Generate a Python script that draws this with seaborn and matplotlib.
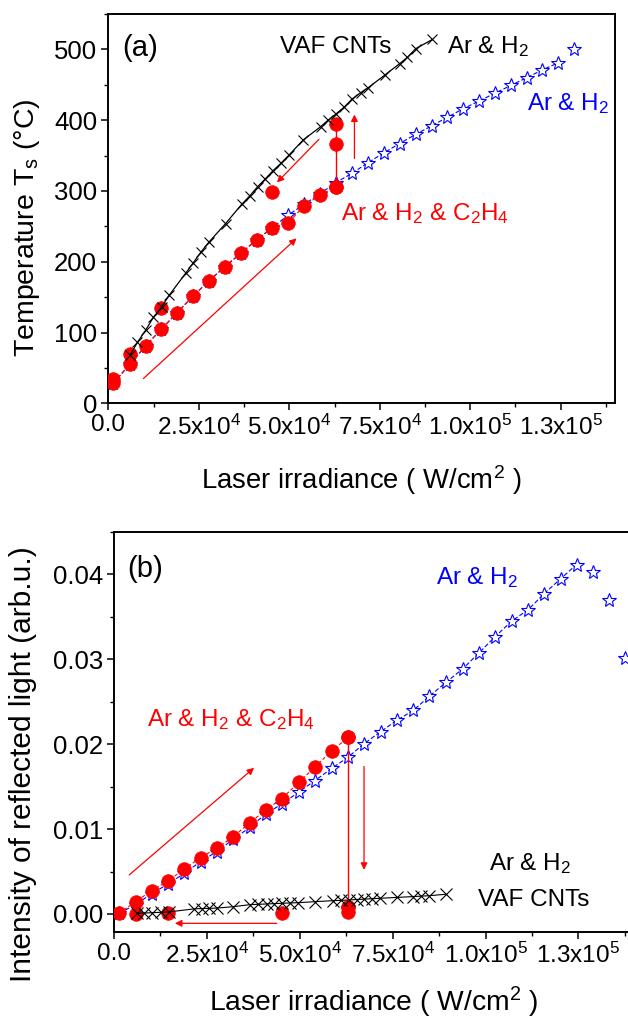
import matplotlib
matplotlib.use("Agg")
import matplotlib.pyplot as plt
import seaborn as sns
from matplotlib.ticker import FixedLocator, MultipleLocator, FixedFormatter, FormatStrFormatter

# ---------------- data: panel (a) temperature ----------------
a_heat_x = [1300, 6000, 10300, 14600, 19000, 23400, 27800, 32200, 36600, 41000, 45300, 49700, 54100, 58500, 62800]
a_heat_T = [28, 55.5, 81, 104.5, 128, 151.5, 173, 193, 212, 231, 248, 255, 279, 294, 306]
a_jump_x = [62800, 62800, 62800]
a_jump_T = [306, 367, 394]
a_cool_x = [45300, 14600, 6000, 1300]
a_cool_T = [299, 135, 70, 35]

a_star_x = [1300, 6000, 10300, 14600, 19000, 23400, 27800, 32200, 36600, 41000, 45300, 49700,
            54100, 58500, 62800, 67350, 71770, 76190, 80500, 84930, 89350, 93660, 97990,
            102400, 106800, 111200, 115600, 119900, 124300]
a_star_T = [28, 55.5, 81, 104.5, 128, 151.5, 173, 193, 212, 231, 248, 266,
            281, 296, 311.6, 325, 340, 354, 367, 380, 392, 404, 416,
            427, 438, 449, 460, 471, 481]
a_star_tail_x = [128700]
a_star_tail_T = [500]

a_vaf_x = [6000, 8030, 10340, 12440, 14760, 16860, 21350, 23480, 25600, 27810, 32420, 36830,
           39040, 41250, 43260, 45470, 47680, 49970, 53840, 58640, 60740, 62860, 65070,
           67350, 69680, 71780, 76390, 80530, 82620, 84930, 89530]
a_vaf_T = [68, 86, 103.5, 121.4, 136.4, 153, 183.6, 198.6, 213.7, 227.8, 254, 281,
           292.8, 306, 316.4, 328.5, 339, 351, 372, 390.7, 400, 408.6, 418,
           429.8, 438.7, 445.8, 463.7, 480, 488.7, 501, 514]

# ---------------- data: panel (b) reflected light ----------------
b_heat_x = [1430, 5830, 10140, 14620, 18930, 23330, 27630, 32110, 36600, 40900, 45210, 49700, 54090, 58580, 63050]
b_heat_I = [0.0001, 0.00145, 0.00275, 0.0039, 0.0053, 0.00664, 0.00774, 0.0091, 0.01076,
            0.01226, 0.01359, 0.01548, 0.01729, 0.0192, 0.02078]
b_drop_x = [63050, 63050]
b_drop_I = [0.02078, 0.00086]
b_cool_x = [63050, 63050, 45210, 14620, 5830]
b_cool_I = [0.00086, 0.00027, 0.00015, 0.0001, 0.0]

b_star_x = [1430, 5830, 10140, 14620, 18930, 23330, 27630, 32110, 36600, 40900, 45210, 49700,
            54090, 58720, 63050, 67280, 71770, 76070, 80550, 84850, 89340, 93830, 98220,
            102500, 107000, 111500, 115800, 120200, 124500]
b_star_I = [0.0001, 0.0011, 0.0024, 0.00354, 0.0048, 0.00617, 0.00734, 0.0088, 0.01021,
            0.01179, 0.01296, 0.01434, 0.01571, 0.01717, 0.01847, 0.02004, 0.02145, 0.02278,
            0.02396, 0.02561, 0.02726, 0.02884, 0.03072, 0.03261, 0.03445, 0.03583, 0.03771,
            0.03945, 0.04113]
b_star_tail_x = [129000, 133300, 137500]
b_star_tail_I = [0.04022, 0.03701, 0.03014]

b_vaf_x = [6100, 8160, 10300, 12560, 14710, 21530, 23600, 25650, 27800, 32110, 36600, 38830,
           41090, 43060, 45300, 47370, 49600, 54090, 59020, 61090, 63250, 65320, 67380,
           69530, 71590, 76070, 80550, 82620, 84770, 89260]
b_vaf_I = [0.0001, 0.00012, 0.00015, 0.0002, 0.00024, 0.0006, 0.00064, 0.00067, 0.0007,
           0.00086, 0.0011, 0.00114, 0.00118, 0.00122, 0.00126, 0.0013, 0.00133, 0.00145,
           0.00157, 0.0016, 0.00165, 0.0017, 0.00175, 0.0018, 0.00185, 0.00195, 0.00205,
           0.0021, 0.00215, 0.00232]

# ---------------- ticks ----------------
x_ticks = [0, 25000, 50000, 75000, 100000, 125000]
x_tick_labels = ["0.0", "2.5x10$^4$", "5.0x10$^4$", "7.5x10$^4$", "1.0x10$^5$", "1.3x10$^5$"]
a_y_ticks = [0, 100, 200, 300, 400, 500]
b_y_ticks = [0.00, 0.01, 0.02, 0.03, 0.04]

sns.set_theme(style="ticks")
plt.rcParams['font.family'] = ['Liberation Sans', 'DejaVu Sans']
plt.rcParams['mathtext.default'] = 'regular'
plt.rcParams['text.color'] = 'black'
plt.rcParams['axes.labelcolor'] = 'black'
plt.rcParams['xtick.color'] = 'black'
plt.rcParams['ytick.color'] = 'black'
plt.rcParams['axes.edgecolor'] = 'black'

fig = plt.figure(figsize=(6.28, 10.21), dpi=100)
axA = fig.add_axes([0.1725, 0.6050, 0.8068, 0.3813])
axB = fig.add_axes([0.1815, 0.0875, 0.8283, 0.3918])

XTICK_FS = 17.5
YTICK_FS = 18.5
ANN_FS = 17.5
PAN_FS = 21
RED = '#ff0000'
BLUE = '#0000ff'

star_kw = dict(marker='*', markersize=10, markerfacecolor='white', markeredgecolor=BLUE,
               markeredgewidth=0.8, color=BLUE)
circ_kw = dict(marker='o', markersize=9.8, markerfacecolor=RED, markeredgecolor=RED,
               markeredgewidth=0.5, color=RED)
xa_kw = dict(marker='x', markersize=6.5, markeredgecolor='black', markeredgewidth=0.8, color='black')
xb_kw = dict(marker='x', markersize=8, markeredgecolor='black', markeredgewidth=0.8, color='black')

# ----- panel (a) -----
ax = axA
sns.lineplot(x=a_star_x, y=a_star_T, ax=ax, sort=False, estimator=None, lw=0.8,
             linestyle=(0, (4, 2)), zorder=3, **star_kw)
sns.lineplot(x=a_star_tail_x, y=a_star_tail_T, ax=ax, sort=False, estimator=None,
             linestyle='none', zorder=3, **star_kw)
sns.lineplot(x=a_heat_x, y=a_heat_T, ax=ax, sort=False, estimator=None, lw=0.8,
             linestyle=(0, (4, 2)), zorder=4, **circ_kw)
sns.lineplot(x=a_jump_x, y=a_jump_T, ax=ax, sort=False, estimator=None, lw=1.0,
             linestyle='-', zorder=4, **circ_kw)
sns.lineplot(x=a_cool_x, y=a_cool_T, ax=ax, sort=False, estimator=None,
             linestyle='none', zorder=4, **circ_kw)
sns.lineplot(x=a_vaf_x, y=a_vaf_T, ax=ax, sort=False, estimator=None, lw=0.9,
             linestyle='-', zorder=5, **xa_kw)

ax.set_xlim(0, 140000)
ax.set_ylim(0, 550)

arrow = dict(arrowstyle='-|>', color=RED, lw=0.9, mutation_scale=10, shrinkA=0, shrinkB=0)
ax.annotate('', xy=(52000, 233), xytext=(9700, 35), arrowprops=arrow)
ax.annotate('', xy=(46600, 312), xytext=(58200, 373), arrowprops=arrow)
ax.annotate('', xy=(68000, 408), xytext=(68000, 346), arrowprops=arrow)

ax.text(47430, 494.5, "VAF CNTs", fontsize=ANN_FS, color='black', ha='left', va='baseline')
ax.text(93480, 494.5, "Ar & H$_2$", fontsize=ANN_FS, color='black', ha='left', va='baseline')
ax.text(115580, 414.4, "Ar & H$_2$", fontsize=ANN_FS, color=BLUE, ha='left', va='baseline')
ax.text(64200, 259, "Ar & H$_2$ & C$_2$H$_4$", fontsize=ANN_FS, color=RED, ha='left', va='baseline')
ax.text(3780, 491, "(a)", fontsize=PAN_FS, color='black', ha='left', va='baseline')

ax.set_ylabel("Temperature T$_s$ (\u00b0C)", fontsize=20.5)
ax.set_xlabel("Laser irradiance ( W/cm$^2$ )", fontsize=19.8)
ax.yaxis.set_major_locator(FixedLocator(a_y_ticks))
ax.yaxis.set_minor_locator(MultipleLocator(50))
ax.yaxis.set_label_coords(-0.131, 0.45)
ax.xaxis.set_label_coords(0.5, -0.155)

# ----- panel (b) -----
ax = axB
sns.lineplot(x=b_star_x, y=b_star_I, ax=ax, sort=False, estimator=None, lw=0.8,
             linestyle=(0, (4, 2)), zorder=3, **star_kw)
sns.lineplot(x=b_star_tail_x, y=b_star_tail_I, ax=ax, sort=False, estimator=None,
             linestyle='none', zorder=3, **star_kw)
sns.lineplot(x=b_heat_x, y=b_heat_I, ax=ax, sort=False, estimator=None, lw=0.8,
             linestyle=(0, (3, 2)), zorder=4, **circ_kw)
sns.lineplot(x=b_drop_x, y=b_drop_I, ax=ax, sort=False, estimator=None, lw=1.0,
             linestyle='-', zorder=4, **circ_kw)
sns.lineplot(x=b_cool_x, y=b_cool_I, ax=ax, sort=False, estimator=None,
             linestyle='none', zorder=4, **circ_kw)
sns.lineplot(x=b_vaf_x, y=b_vaf_I, ax=ax, sort=False, estimator=None, lw=0.8,
             linestyle='-', zorder=5, **xb_kw)

ax.set_xlim(0, 140000)
ax.set_ylim(-0.00208, 0.045)

ax.annotate('', xy=(37700, 0.0172), xytext=(4100, 0.0046), arrowprops=arrow)
ax.annotate('', xy=(16400, -0.0011), xytext=(43800, -0.0011), arrowprops=arrow)
ax.annotate('', xy=(67300, 0.0052), xytext=(67300, 0.01736), arrowprops=arrow)

ax.text(3550, 0.0397, "(b)", fontsize=PAN_FS, color='black', ha='left', va='baseline')
ax.text(86650, 0.03877, "Ar & H$_2$", fontsize=ANN_FS, color=BLUE, ha='left', va='baseline')
ax.text(8930, 0.02207, "Ar & H$_2$ & C$_2$H$_4$", fontsize=ANN_FS, color=RED, ha='left', va='baseline')
ax.text(101000, 0.00519, "Ar & H$_2$", fontsize=ANN_FS, color='black', ha='left', va='baseline')
ax.text(98040, 0.00094, "VAF CNTs", fontsize=ANN_FS, color='black', ha='left', va='baseline')

ax.set_ylabel("Intensity of reflected light (arb.u.)", fontsize=21.5)
ax.set_xlabel("Laser irradiance ( W/cm$^2$ )", fontsize=20.3)
ax.yaxis.set_major_locator(FixedLocator(b_y_ticks))
ax.yaxis.set_major_formatter(FormatStrFormatter('%.2f'))
ax.yaxis.set_minor_locator(MultipleLocator(0.005))
ax.yaxis.set_label_coords(-0.148, 0.42)
ax.xaxis.set_label_coords(0.5, -0.132)

for ax in (axA, axB):
    ax.xaxis.set_major_locator(FixedLocator(x_ticks))
    ax.xaxis.set_major_formatter(FixedFormatter(x_tick_labels))
    ax.xaxis.set_minor_locator(MultipleLocator(12500))
    ax.tick_params(which='major', direction='out', length=5, width=1.1, pad=3)
    ax.tick_params(axis='x', which='major', labelsize=XTICK_FS)
    ax.tick_params(axis='y', which='major', labelsize=YTICK_FS)
    ax.tick_params(which='minor', direction='out', length=3, width=1.0)
    for s in ax.spines.values():
        s.set_linewidth(1.4)
        s.set_color('black')
    ax.set_facecolor('white')
    if ax.get_legend() is not None:
        ax.get_legend().remove()

fig.savefig("out.png", dpi=100, facecolor='white')
